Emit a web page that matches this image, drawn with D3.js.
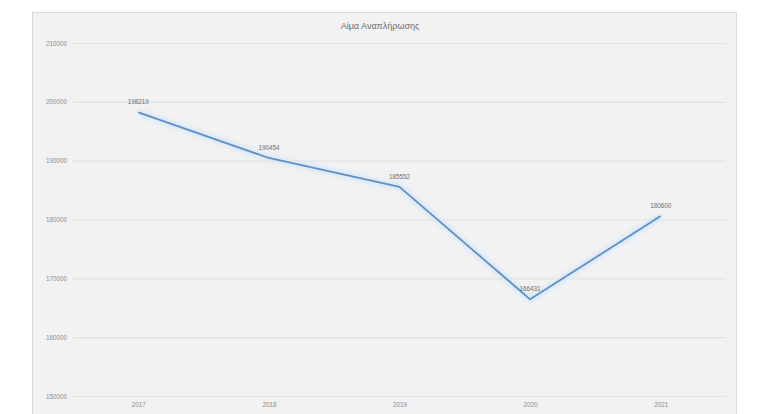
<!DOCTYPE html>
<html lang="el">
	<head>
		<meta charset="utf-8">
		<script src="https://d3js.org/d3.v7.min.js"></script>
		<style>
			body { margin: 0; background: #ffffff; }
			text { font-family: "Liberation Sans", Arial, sans-serif; }
		</style>
	</head>
	<body>
		<script type="text/javascript">

			// data
			var years = ["2017", "2018", "2019", "2020", "2021"];
			var values = [198219, 190454, 185552, 166431, 180600];
			var yTicks = [150000, 160000, 170000, 180000, 190000, 200000, 210000];
			var title = "Αίμα Αναπλήρωσης";

			//Width and height
			var w = 762;
			var h = 414;

			var svg = d3.select("body")
						.append("svg")
						.attr("width", w)
						.attr("height", h);

			// soft glow under the line
			var defs = svg.append("defs");
			defs.append("filter")
				.attr("id", "glow")
				.attr("x", "-10%").attr("y", "-20%")
				.attr("width", "120%").attr("height", "140%")
				.append("feGaussianBlur")
				.attr("stdDeviation", 2.5);

			// chart box
			svg.append("rect")
				.attr("x", 32.5)
				.attr("y", 12.5)
				.attr("width", 704)
				.attr("height", 410)
				.style("fill", "#f2f2f2")
				.style("stroke", "#d9d9d9");

			var x = d3.scalePoint()
					  .domain(years)
					  .range([73, 726])
					  .padding(0.5);

			var y = d3.scaleLinear()
					  .domain([150000, 210000])
					  .range([396, 43]);

			// gridlines + y labels
			var yAxis = svg.append("g")
				.attr("transform", "translate(73,0)")
				.call(d3.axisLeft(y)
						.tickValues(yTicks)
						.tickSize(-653)
						.tickPadding(6)
						.tickFormat(d3.format("d")));
			yAxis.select(".domain").remove();
			yAxis.selectAll("line")
				.style("stroke", "#e2e2e2")
				.style("stroke-width", 1.2);
			yAxis.selectAll("text")
				.style("fill", "#8c8c8c")
				.style("font-size", "6.3px");

			// x labels
			var xAxis = svg.append("g")
				.attr("transform", "translate(0,396)")
				.call(d3.axisBottom(x).tickSize(0).tickPadding(7));
			xAxis.select(".domain").remove();
			xAxis.selectAll("text")
				.style("fill", "#8c8c8c")
				.style("font-size", "6.3px");

			// title
			svg.append("text")
				.attr("x", 380)
				.attr("y", 29)
				.attr("text-anchor", "middle")
				.style("font-size", "9px")
				.style("fill", "#6b6b6b")
				.text(title);

			var line = d3.line()
						 .x(function(d, i) { return x(years[i]); })
						 .y(function(d) { return y(d); });

			svg.append("path")
				.datum(values)
				.attr("d", line)
				.attr("filter", "url(#glow)")
				.style("fill", "none")
				.style("stroke", "#d6e6f6")
				.style("stroke-width", 6);

			svg.append("path")
				.datum(values)
				.attr("d", line)
				.style("fill", "none")
				.style("stroke", "#5e90ca")
				.style("stroke-width", 1.8)
				.style("stroke-linejoin", "round");

			// value labels
			svg.selectAll(".vlabel")
				.data(values)
				.enter()
				.append("text")
				.attr("class", "vlabel")
				.attr("x", function(d, i) { return x(years[i]); })
				.attr("y", function(d) { return y(d) - 8; })
				.attr("text-anchor", "middle")
				.style("font-size", "6.3px")
				.style("fill", "#6e6e6e")
				.text(function(d) { return d; });

		</script>
	</body>
</html>
